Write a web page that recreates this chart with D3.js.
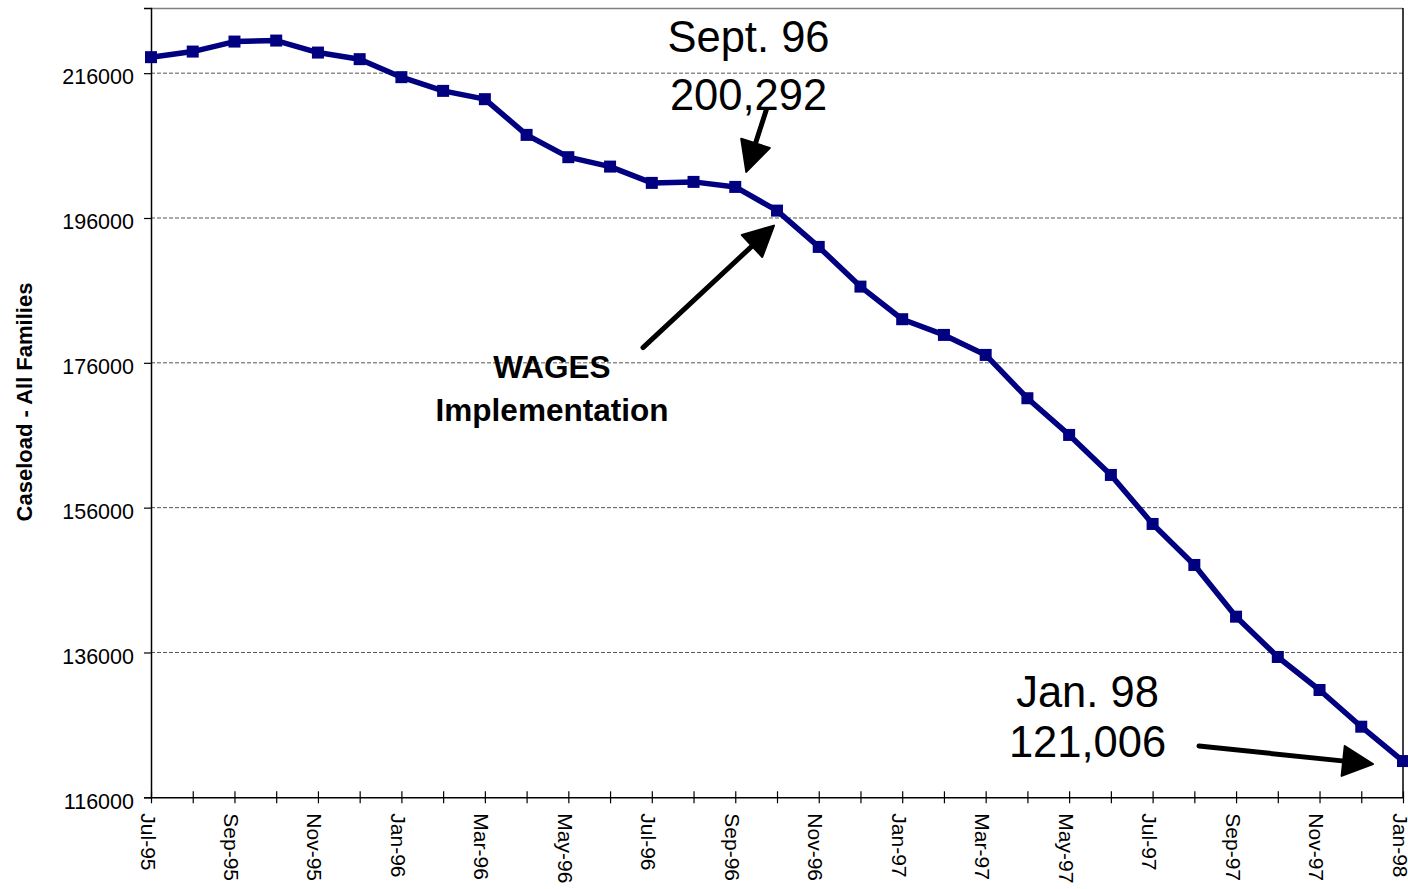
<!DOCTYPE html>
<html>
<head>
<meta charset="utf-8">
<script src="https://cdn.jsdelivr.net/npm/d3@7"></script>
<style>
  html, body { margin: 0; padding: 0; background: #fff; }
  svg { display: block; font-family: "Liberation Sans", Arial, sans-serif; }
</style>
</head>
<body>
<svg id="chart" width="1408" height="889"></svg>
<script>
const months = ["Jul-95","Aug-95","Sep-95","Oct-95","Nov-95","Dec-95",
  "Jan-96","Feb-96","Mar-96","Apr-96","May-96","Jun-96","Jul-96","Aug-96","Sep-96","Oct-96","Nov-96","Dec-96",
  "Jan-97","Feb-97","Mar-97","Apr-97","May-97","Jun-97","Jul-97","Aug-97","Sep-97","Oct-97","Nov-97","Dec-97",
  "Jan-98"];
const caseload = [218210, 218983, 220365, 220503, 218845, 217934,
  215448, 213555, 212409, 207478, 204398, 203099, 200848, 200986, 200292, 197022, 192008, 186525,
  182022, 179854, 177091, 171110, 166041, 160517, 153749, 148086, 140945, 135378, 130820, 125751,
  121006];
const yTicks = [116000, 136000, 156000, 176000, 196000, 216000];
const yDomain = [116000, 225000];
const yTitle = "Caseload - All Families";

const svg = d3.select("#chart");
const margin = {left: 151, top: 8, right: 5, bottom: 91.7};
const W = 1408, H = 889;
const x = d3.scalePoint().domain(months).range([margin.left, W - margin.right]);
const y = d3.scaleLinear().domain(yDomain).range([H - margin.bottom, margin.top]);
const FONT = "\"Liberation Sans\", Arial, sans-serif";

// gridlines
svg.append("g").selectAll("line").data(yTicks.slice(1)).join("line")
  .attr("x1", margin.left).attr("x2", W - margin.right)
  .attr("y1", d => y(d)).attr("y2", d => y(d))
  .attr("stroke", "#555").attr("stroke-width", 1).attr("stroke-dasharray", "4,2");

// plot frame top/right
svg.append("line").attr("x1", margin.left).attr("x2", W - margin.right)
  .attr("y1", y(yDomain[1]) + 0.5).attr("y2", y(yDomain[1]) + 0.5)
  .attr("stroke", "#808080").attr("stroke-width", 1.5);
svg.append("line").attr("x1", W - margin.right).attr("x2", W - margin.right)
  .attr("y1", y(yDomain[1])).attr("y2", y(yDomain[0]))
  .attr("stroke", "#000").attr("stroke-width", 1.5);

// y axis
const yAxis = d3.axisLeft(y).tickValues(yTicks).tickSize(7).tickPadding(10).tickFormat(d3.format("d"));
const gy = svg.append("g").attr("transform", `translate(${margin.left},0)`).call(yAxis);
gy.select(".domain").attr("stroke", "#000").attr("stroke-width", 1.5);
gy.selectAll(".tick line").attr("stroke", "#000").attr("stroke-width", 1.2);
gy.selectAll(".tick text").attr("font-family", FONT).attr("font-size", 21.5).attr("fill", "#000")
  .attr("dy", null).attr("y", 10.8);

// x axis
const xAxis = d3.axisBottom(x).tickSize(0).tickFormat((d, i) => i % 2 === 0 ? d : "");
const gx = svg.append("g").attr("transform", `translate(0,${y(yDomain[0])})`).call(xAxis);
gx.select(".domain").attr("stroke", "#000").attr("stroke-width", 1.5);
gx.selectAll(".tick").append("line").attr("y1", -6).attr("y2", 6)
  .attr("stroke", "#000").attr("stroke-width", 1.2);
gx.selectAll(".tick text")
  .attr("font-family", FONT).attr("font-size", 21).attr("fill", "#000")
  .attr("text-anchor", "start")
  .attr("transform", "rotate(90)")
  .attr("x", 16).attr("y", 0).attr("dy", 11);

// y title
svg.append("text")
  .attr("transform", `translate(32,402) rotate(-90)`)
  .attr("text-anchor", "middle").attr("font-family", FONT)
  .attr("font-size", 22).attr("font-weight", "bold").text(yTitle);

// series line
const pts = months.map((m, i) => [x(m), y(caseload[i])]);
svg.append("path").datum(pts)
  .attr("d", d3.line())
  .attr("fill", "none").attr("stroke", "#000080").attr("stroke-width", 5.5)
  .attr("stroke-linejoin", "round");
svg.append("g").selectAll("rect").data(pts).join("rect")
  .attr("x", d => d[0] - 6).attr("y", d => d[1] - 6)
  .attr("width", 12).attr("height", 12).attr("fill", "#000080");

// annotations
function arrow(anchor, tail, tip) {
  const ax = anchor[0], ay = anchor[1];
  const x1 = ax + tail[0], y1 = ay + tail[1], x2 = ax + tip[0], y2 = ay + tip[1];
  const dx = x2 - x1, dy = y2 - y1, len = Math.hypot(dx, dy);
  const ux = dx / len, uy = dy / len, px = -uy, py = ux;
  const hl = 30, hw = 15;
  const bx = x2 - ux * hl, by = y2 - uy * hl;
  svg.append("line").attr("x1", x1).attr("y1", y1).attr("x2", bx + ux * 4).attr("y2", by + uy * 4)
    .attr("stroke", "#000").attr("stroke-width", 5).attr("stroke-linecap", "round");
  svg.append("path")
    .attr("d", `M${x2},${y2}L${bx + px * hw},${by + py * hw}L${bx - px * hw},${by - py * hw}Z`)
    .attr("fill", "#000").attr("stroke", "#000").attr("stroke-width", 2).attr("stroke-linejoin", "round");
}
const iSep = months.indexOf("Sep-96"), iOct = months.indexOf("Oct-96"), iJan = months.indexOf("Jan-98");
arrow(pts[iSep], [31, -77], [11, -15]);
arrow(pts[iOct], [-134, 137], [-3, 15]);
arrow(pts[iJan], [-204, -15], [-30, 3]);

function label(lines, cx, baselines, size, weight) {
  lines.forEach((t, k) => {
    svg.append("text").attr("x", cx).attr("y", baselines[k])
      .attr("text-anchor", "middle").attr("font-family", FONT)
      .attr("font-size", size).attr("font-weight", weight).attr("fill", "#000").text(t);
  });
}
label(["Sept. 96", d3.format(",")(caseload[iSep])], 748.5, [52, 110], 43.5, "normal");
label(["Jan. 98", d3.format(",")(caseload[iJan])], 1087.5, [707, 757], 43.5, "normal");
label(["WAGES", "Implementation"], 552, [378, 421], 31.5, "bold");
</script>
</body>
</html>
